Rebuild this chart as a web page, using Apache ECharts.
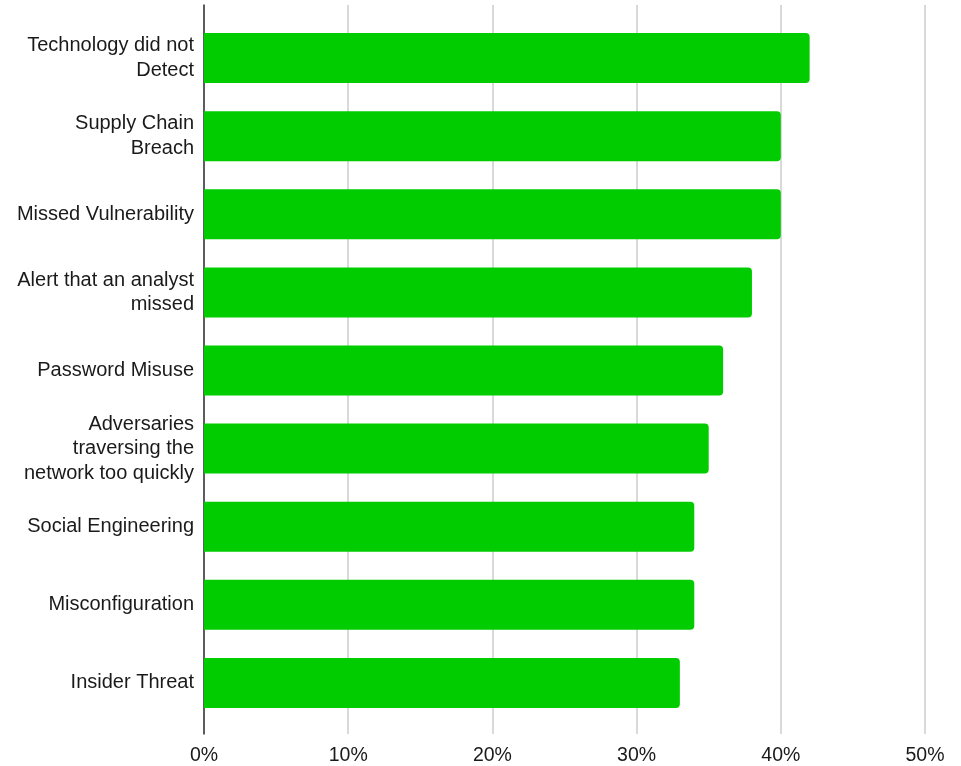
<!DOCTYPE html>
<html>
<head>
<meta charset="utf-8">
<script src="https://cdn.jsdelivr.net/npm/echarts@6/dist/echarts.min.js"></script>
<style>
  html, body { margin: 0; padding: 0; background: #fff; }
  #chart { width: 961px; height: 766px; }
</style>
</head>
<body>
<div id="chart"></div>
<script>
// Reasons given for breaches (share of respondents)
const categories = [
  'Technology did not\nDetect',
  'Supply Chain\nBreach',
  'Missed Vulnerability',
  'Alert that an analyst\nmissed',
  'Password Misuse',
  'Adversaries\ntraversing the\nnetwork too quickly',
  'Social Engineering',
  'Misconfiguration',
  'Insider Threat'
];
const shares = [0.42, 0.40, 0.40, 0.38, 0.36, 0.35, 0.34, 0.34, 0.33];
const xMax = 0.5;
const xStep = 0.1;

const FONT = '"Liberation Sans", Arial, sans-serif';
const chart = echarts.init(document.getElementById('chart'), null, { renderer: 'canvas' });

chart.setOption({
  animation: false,
  backgroundColor: '#ffffff',
  grid: [
    // bars and category labels
    { left: 204, right: 36, top: 19, bottom: 44 },
    // frame: gridlines, baseline, percent ticks
    { left: 204, right: 36, top: 5, bottom: 31 }
  ],
  xAxis: [
    { gridIndex: 0, type: 'value', min: 0, max: xMax, interval: xStep, show: false },
    {
      gridIndex: 1, type: 'value', min: 0, max: xMax, interval: xStep,
      axisLine: { show: false }, axisTick: { show: false },
      splitLine: { show: true, lineStyle: { color: '#cccccc', width: 1.5 } },
      axisLabel: {
        margin: 22, verticalAlign: 'middle', fontSize: 19.5, fontFamily: FONT, color: '#1a1a1a',
        formatter: v => Math.round(v * 100) + '%'
      }
    }
  ],
  yAxis: [
    {
      gridIndex: 0, type: 'category', data: categories, inverse: true,
      axisLine: { show: false }, axisTick: { show: false }, splitLine: { show: false },
      axisLabel: {
        margin: 10, fontSize: 20, lineHeight: 24.5, fontFamily: FONT,
        color: '#1a1a1a', align: 'right'
      }
    },
    {
      gridIndex: 1, type: 'value', min: 0, max: 1,
      axisLine: { show: true, onZero: false, lineStyle: { color: '#333', width: 1.5 } },
      axisTick: { show: false }, axisLabel: { show: false }, splitLine: { show: false }
    }
  ],
  series: [
    {
      type: 'bar', xAxisIndex: 0, yAxisIndex: 0,
      data: shares, barWidth: '64%',
      itemStyle: { color: '#00cc00', borderRadius: [0, 4, 4, 0] }
    }
  ]
});
</script>
</body>
</html>
